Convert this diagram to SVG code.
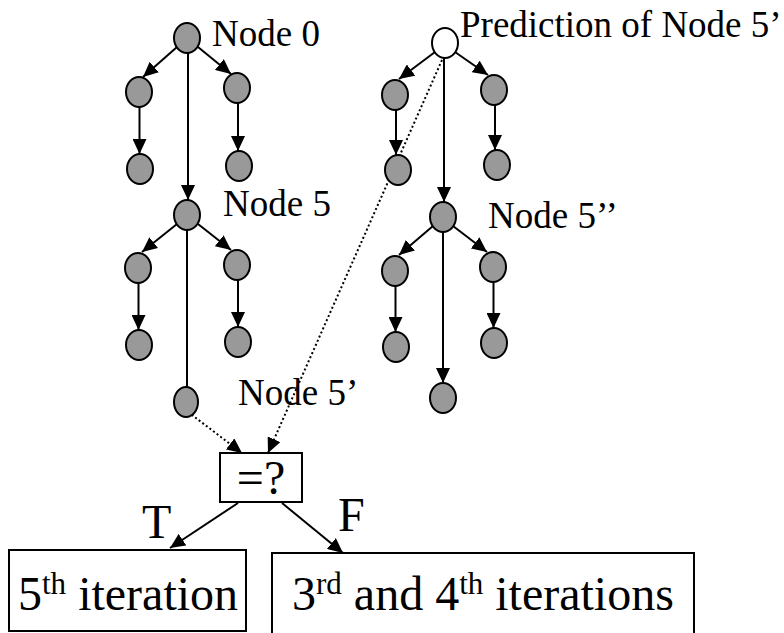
<svg xmlns="http://www.w3.org/2000/svg" width="784" height="633" viewBox="0 0 784 633">
<style>
.n{fill:#999999;stroke:#000;stroke-width:2}
.w{fill:#fff;stroke:#000;stroke-width:2}
.e{stroke:#000;stroke-width:2;fill:none}
.d{stroke:#000;stroke-width:2;stroke-dasharray:2 2.5;fill:none}
.b{fill:#fff;stroke:#000;stroke-width:2}
text{font-family:'Liberation Serif','Times New Roman',serif;fill:#000}
.s{font-size:37px}
.l{font-size:48px}
</style>
<defs>
<marker id="ah" markerUnits="userSpaceOnUse" markerWidth="16" markerHeight="14" refX="15" refY="7" orient="auto">
<path d="M0,0 L15,7 L0,14 Z" fill="#000"/>
</marker>
</defs>
<rect width="784" height="633" fill="#fff"/>
<g id="connectors">
<line class="e" x1="177" y1="47" x2="143" y2="77" marker-end="url(#ah)"/>
<line class="e" x1="198" y1="47" x2="231" y2="74" marker-end="url(#ah)"/>
<line class="e" x1="188" y1="53" x2="188" y2="200" marker-end="url(#ah)"/>
<line class="e" x1="139.5" y1="107" x2="139.5" y2="154" marker-end="url(#ah)"/>
<line class="e" x1="238" y1="103" x2="238" y2="151" marker-end="url(#ah)"/>
<line class="e" x1="177" y1="224" x2="142" y2="252" marker-end="url(#ah)"/>
<line class="e" x1="198" y1="224" x2="231" y2="250" marker-end="url(#ah)"/>
<line class="e" x1="138.5" y1="283" x2="138.5" y2="330" marker-end="url(#ah)"/>
<line class="e" x1="238" y1="280" x2="238" y2="327" marker-end="url(#ah)"/>
<line class="e" x1="187" y1="230" x2="187" y2="388"/>
<line class="e" x1="435" y1="52" x2="399" y2="79" marker-end="url(#ah)"/>
<line class="e" x1="455" y1="52" x2="488" y2="75" marker-end="url(#ah)"/>
<line class="e" x1="396" y1="110" x2="396" y2="155" marker-end="url(#ah)"/>
<line class="e" x1="495" y1="105" x2="495" y2="150" marker-end="url(#ah)"/>
<line class="e" x1="444" y1="58" x2="444" y2="202" marker-end="url(#ah)"/>
<line class="e" x1="433" y1="226" x2="399" y2="255" marker-end="url(#ah)"/>
<line class="e" x1="453" y1="226" x2="487" y2="252" marker-end="url(#ah)"/>
<line class="e" x1="395.5" y1="286" x2="395.5" y2="332" marker-end="url(#ah)"/>
<line class="e" x1="493.5" y1="282" x2="493.5" y2="328" marker-end="url(#ah)"/>
<line class="e" x1="443" y1="232" x2="443" y2="383" marker-end="url(#ah)"/>
<line class="d" x1="188" y1="412" x2="242" y2="453" marker-end="url(#ah)"/>
<line class="d" x1="442" y1="60" x2="268" y2="453" marker-end="url(#ah)"/>
<line class="e" x1="238" y1="503" x2="170" y2="548" marker-end="url(#ah)"/>
<line class="e" x1="282" y1="503" x2="343" y2="553" marker-end="url(#ah)"/>
</g>
<g id="node0"><ellipse class="n" cx="187" cy="38" rx="13" ry="15"/><text class="s" x="212" y="46">Node 0</text></g>
<g id="a1"><ellipse class="n" cx="139" cy="92" rx="13" ry="15"/></g>
<g id="a2"><ellipse class="n" cx="237" cy="88" rx="13" ry="15"/></g>
<g id="a3"><ellipse class="n" cx="140" cy="169" rx="13" ry="15"/></g>
<g id="a4"><ellipse class="n" cx="239" cy="166" rx="13" ry="15"/></g>
<g id="node5"><ellipse class="n" cx="187" cy="215" rx="13" ry="15"/><text class="s" x="223" y="216">Node 5</text></g>
<g id="b1"><ellipse class="n" cx="138" cy="268" rx="13" ry="15"/></g>
<g id="b2"><ellipse class="n" cx="237" cy="265" rx="13" ry="15"/></g>
<g id="b3"><ellipse class="n" cx="139" cy="345" rx="13" ry="15"/></g>
<g id="b4"><ellipse class="n" cx="238" cy="342" rx="13" ry="15"/></g>
<g id="node5p"><ellipse class="n" cx="186" cy="402" rx="12" ry="15"/><text class="s" x="238" y="405">Node 5’</text></g>
<g id="pred"><ellipse class="w" cx="445" cy="43" rx="13" ry="15"/><text class="s" x="460" y="37">Prediction of Node 5’</text></g>
<g id="c1"><ellipse class="n" cx="395" cy="95" rx="13" ry="15"/></g>
<g id="c2"><ellipse class="n" cx="494" cy="90" rx="13" ry="15"/></g>
<g id="c3"><ellipse class="n" cx="398" cy="170" rx="13" ry="15"/></g>
<g id="c4"><ellipse class="n" cx="497" cy="165" rx="13" ry="15"/></g>
<g id="node5pp"><ellipse class="n" cx="443" cy="217" rx="13" ry="15"/><text class="s" x="488" y="228">Node 5’’</text></g>
<g id="d1"><ellipse class="n" cx="395" cy="271" rx="13" ry="15"/></g>
<g id="d2"><ellipse class="n" cx="493" cy="267" rx="13" ry="15"/></g>
<g id="d3"><ellipse class="n" cx="396" cy="347" rx="13" ry="15"/></g>
<g id="d4"><ellipse class="n" cx="494" cy="343" rx="13" ry="15"/></g>
<g id="d5"><ellipse class="n" cx="443" cy="398" rx="13" ry="15"/></g>
<g id="cmp"><rect class="b" x="220" y="453" width="82" height="49"/><text class="l" x="261" y="494" text-anchor="middle">=?</text></g>
<g id="labelT"><text class="l" x="142" y="538">T</text></g>
<g id="labelF"><text class="l" x="338" y="531">F</text></g>
<g id="iter5"><rect class="b" x="9" y="550" width="237" height="81"/><text class="l" x="18" y="610">5<tspan font-size="31" dy="-16">th</tspan><tspan dy="16"> iteration</tspan></text></g>
<g id="iter34"><rect class="b" x="272" y="553" width="422" height="90"/><text class="l" x="292" y="610">3<tspan font-size="31" dy="-16">rd</tspan><tspan dy="16"> and 4</tspan><tspan font-size="31" dy="-16">th</tspan><tspan dy="16"> iterations</tspan></text></g>
</svg>
